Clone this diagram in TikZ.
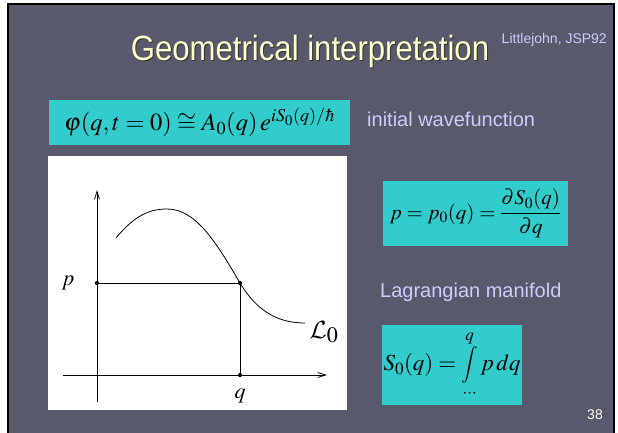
\documentclass[tikz,border=0pt]{standalone}
\usepackage{mathptmx}
\usepackage[no-math]{fontspec}
\setmainfont{Liberation Sans}
\DeclareMathAlphabet{\mathcal}{OMS}{cmsy}{m}{n}
\usetikzlibrary{arrows.meta}
\definecolor{SlideBg}{RGB}{88,89,106}
\definecolor{TitleYel}{RGB}{255,255,204}
\definecolor{SoftLav}{RGB}{204,204,255}
\definecolor{EqCyan}{RGB}{51,204,204}
\newcommand{\midint}{\mathop{\vcenter{\hbox{\scalebox{0.8}{$\displaystyle\int$}}}}\limits}
\tikzset{dot/.style={circle,fill=black,inner sep=1.5pt}, eqbox/.style={fill=EqCyan,inner sep=0pt,text=black}, note/.style={text=SoftLav,font=\fontsize{20}{24}\selectfont,inner sep=0pt}, axis/.style={line width=0.8pt,-{Straight Barb[length=8pt,width=5pt]}}}

\begin{document}
\begin{tikzpicture}[x=1pt,y=-1pt]
\useasboundingbox (0,0) rectangle (618,432);
\fill[white] (0,0) rectangle (618,432);
\draw[fill=SlideBg,line width=2pt] (8,4) rectangle (614,440);
% title
\node[text=black!80,font=\fontsize{35}{40}\selectfont,inner sep=0pt] at (311,52) {\scalebox{0.89}[1]{Geometrical interpretation}};
\node[text=TitleYel,font=\fontsize{35}{40}\selectfont,inner sep=0pt] (title) at (310,51) {\scalebox{0.89}[1]{Geometrical interpretation}};
\node[text=SoftLav,font=\fontsize{14}{16}\selectfont,inner sep=0pt,anchor=base east] (ref) at (607,43) {Littlejohn, JSP92};
% formulas
\node[eqbox,minimum width=301pt,minimum height=45pt] (wave) at (199.5,122.5) {\fontsize{24.5}{28}\selectfont$\varphi(q,t=0)\cong A_0(q)\,e^{iS_0(q)/\hbar}$};
\node[note,anchor=base west] (wavetxt) at (367,126) {initial wavefunction};
\node[eqbox,minimum width=185pt,minimum height=65pt] (mom) at (475.5,213.5) {\fontsize{21}{25}\selectfont$\displaystyle p=p_0(q)=\frac{\partial S_0(q)}{\partial q}$};
\node[note,anchor=base west] (lagtxt) at (380,297) {Lagrangian manifold};
\node[eqbox,minimum width=140pt,minimum height=80pt] (act) at (452,365) {\fontsize{23}{27}\selectfont$\displaystyle S_0(q)=\midint_{\cdots}^{q} p\,dq$};
\node[text=white,font=\fontsize{14}{16}\selectfont,inner sep=0pt,anchor=base east] (page) at (603,419) {38};
% phase plane
\fill[white] (48,156) rectangle (347,410);
\coordinate (ybot) at (97,402);
\coordinate (ytop) at (97,190);
\coordinate (xleft) at (63,375);
\coordinate (xright) at (327,375);
\draw[axis] (ybot) -- (ytop);
\draw[axis] (xleft) -- (xright);
\node[dot] (pdot) at (97,283) {};
\node[dot] (cross) at (240,283) {};
\node[dot] (qdot) at (240,375) {};
\draw[line width=0.8pt] (pdot.center) -- (cross.center) -- (qdot.center);
\draw[line width=0.8pt] (116,238) .. controls (135,215) and (150,209) .. (167,209) .. controls (195,209) and (215,240) .. (cross.center) .. controls (258,313) and (280,323) .. (305,323);
\node[font=\fontsize{22}{26}\selectfont,inner sep=0pt] (plab) at (68,283) {$p$};
\node[font=\fontsize{22}{26}\selectfont,inner sep=0pt] (qlab) at (240,396) {$q$};
\node[font=\fontsize{30}{34}\selectfont,inner sep=0pt] (curve) at (324,332) {$\mathcal{L}_0$};
\end{tikzpicture}
\end{document}
